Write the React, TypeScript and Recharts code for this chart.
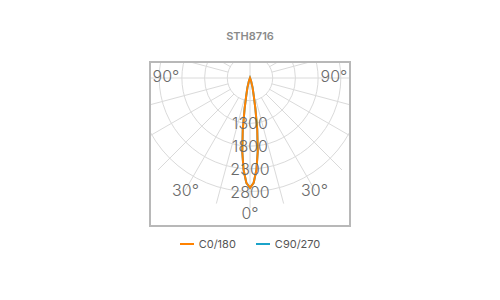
import { RadarChart, Radar, PolarGrid, PolarAngleAxis, PolarRadiusAxis } from "recharts";

// photometric angle (gamma, degrees from nadir) and luminous intensity (cd)
const gammaAngles = [0, 2, 4, 6, 8, 10, 12, 15, 20, 25, 180, 335, 340, 345, 348, 350, 352, 354, 356, 358];
const c0Values = [2720, 2610, 2330, 1930, 1445, 980, 700, 520, 370, 300, 300, 300, 370, 520, 700, 980, 1445, 1930, 2330, 2610];
const c90Values = [2720, 2610, 2330, 1930, 1445, 980, 700, 520, 370, 300, 300, 300, 370, 520, 700, 980, 1445, 1930, 2330, 2610];

const radiusTicks = [800, 1300, 1800, 2300, 2800];
const angleTicks = [0, 30, 90, 270, 330];
const angleTickLabels: Record<number, string> = { 0: "0°", 30: "30°", 330: "30°", 90: "90°", 270: "90°" };
const spokeGammas = [15, 30, 45, 60, 75, 105, 120, 135, 150, 165, 195, 210, 225, 240, 255, 285, 300, 315, 330, 345];
const axisGammas = [0, 90, 180, 270];

const series = [
  { key: "c90", name: "C90/270", color: "#1ba3c9" },
  { key: "c0", name: "C0/180", color: "#ff8200" },
];

const data = gammaAngles.map((g, i) => ({ gamma: g, c0: c0Values[i], c90: c90Values[i] }));

const W = 198;
const H = 162;
const CX = 99;
const CY = 15;
const OUTER_R = 130;
const INNER_R = 22.7;
const LABEL_R = 129;
const R_MIN = 300;
const R_MAX = 3163;
const GRID = "#dadada";
const TEXT = "#6a6a6a";
const FONT = "Inter, 'Open Sans', sans-serif";
const noMargin = { top: 0, right: 0, bottom: 0, left: 0 };

const toChartAngle = (g: number) => g - 90;

function RadiusTick(props: any) {
  const { x, y, payload } = props;
  if (payload.value === 800) return <g />;
  return (
    <text x={x} y={y} textAnchor="middle" dominantBaseline="central" fill={TEXT} fontSize={16} fontWeight={300} fontFamily={FONT}>
      {payload.value}
    </text>
  );
}

function AngleTick(props: any) {
  const { payload } = props;
  const label = angleTickLabels[payload.value];
  if (!label) return <g />;
  const a = (-payload.coordinate * Math.PI) / 180;
  const s = Math.sin(a);
  const x = Math.min(Math.max(CX + LABEL_R * Math.cos(a), 15), W - 15);
  const y = CY + LABEL_R * s + 6 * Math.pow(Math.max(s, 0), 16) - (Math.abs(s) < 0.01 ? 2 : 0);
  return (
    <text x={x} y={y} textAnchor="middle" dominantBaseline="central" fill={TEXT} fontSize={16} fontWeight={300} fontFamily={FONT}>
      {label}
    </text>
  );
}

export default function App() {
  return (
    <div style={{ position: "absolute", left: 0, top: 0, width: 500, height: 300, background: "#fff", fontFamily: FONT }}>
      <div style={{ position: "absolute", top: 29, left: 0, width: 500, textAlign: "center", fontSize: 11, fontWeight: 600, color: "#8a8a8a" }}>
        STH8716
      </div>

      <div style={{ position: "absolute", left: 149, top: 61, width: W, height: H, border: "2px solid #b8b8b8", overflow: "hidden" }}>
        {/* spokes, starting at the inner ring */}
        <div style={{ position: "absolute", left: 0, top: 0 }}>
          <RadarChart width={W} height={H} cx={CX} cy={CY} innerRadius={INNER_R} outerRadius={OUTER_R} startAngle={-90} endAngle={270} margin={noMargin} data={data}>
            <PolarGrid gridType="circle" polarAngles={spokeGammas.map(toChartAngle)} polarRadius={[]} stroke={GRID} />
          </RadarChart>
        </div>

        {/* rings, axes through the centre, curves */}
        <div style={{ position: "absolute", left: 0, top: 0 }}>
          <RadarChart width={W} height={H} cx={CX} cy={CY} innerRadius={0} outerRadius={OUTER_R} startAngle={-90} endAngle={270} margin={noMargin} data={data}>
            <PolarGrid gridType="circle" polarAngles={axisGammas.map(toChartAngle)} stroke={GRID} />
            <PolarAngleAxis dataKey="gamma" type="number" domain={[0, 360]} ticks={angleTicks} tick={AngleTick} axisLine={false} tickLine={false} />
            {series.map((s) => (
              <Radar key={s.key} name={s.name} dataKey={s.key} stroke={s.color} strokeWidth={2} fill="none" fillOpacity={0} dot={false} isAnimationActive={false} />
            ))}
            <PolarRadiusAxis angle={-90} type="number" domain={[R_MIN, R_MAX]} allowDataOverflow ticks={radiusTicks} tick={RadiusTick} axisLine={false} tickLine={false} />
          </RadarChart>
        </div>
      </div>

      <div style={{ position: "absolute", top: 237, left: 0, width: 500, display: "flex", justifyContent: "center", gap: 20, fontSize: 11, color: "#555" }}>
        {[...series].reverse().map((s) => (
          <div key={s.key} style={{ display: "flex", alignItems: "center", gap: 5 }}>
            <span style={{ display: "inline-block", width: 14, height: 2, background: s.color }} />
            <span>{s.name}</span>
          </div>
        ))}
      </div>
    </div>
  );
}
